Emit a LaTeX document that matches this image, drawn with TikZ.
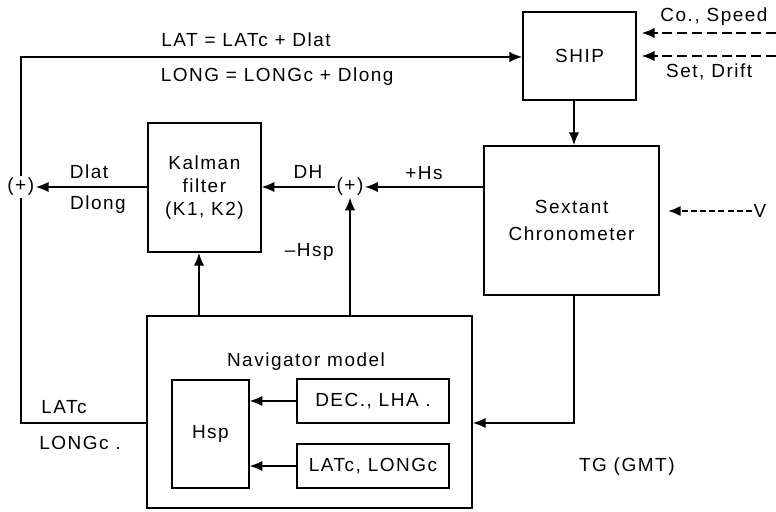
\documentclass[tikz,border=0pt]{standalone}
\usepackage{xcolor}
\usepackage{fontspec}
\setmainfont[LetterSpace=8]{Liberation Sans}
\usepackage{tikz}
\usetikzlibrary{arrows.meta,positioning}

\begin{document}
\begin{tikzpicture}[
    block/.style={rectangle, draw=black, line width=1.1pt, align=center, font=\fontsize{13.5}{16.5}\selectfont},
    lab/.style={font=\fontsize{13.5}{16}\selectfont, inner sep=1pt},
    sum/.style={font=\fontsize{13.5}{16}\selectfont, inner sep=1pt},
    wire/.style={line width=1.1pt},
    flow/.style={line width=1.1pt, -{Latex[length=3.2mm,width=2.6mm]}},
    ext/.style={line width=1.1pt, dashed, dash pattern=on 2.5mm off 1.2mm, -{Latex[length=3.2mm,width=2.6mm]}}
    ]
    \useasboundingbox (0,0) rectangle (19.4,-12.8);

    \node[block, minimum width=2.83cm, minimum height=2.2cm] (ship) at (14.49,-1.4) {SHIP};
    \node[block, minimum width=4.375cm, minimum height=3.725cm, font=\fontsize{13.5}{19.5}\selectfont] (sextant) at (14.29,-5.51) {Sextant\\Chronometer};
    \node[block, minimum width=2.825cm, minimum height=3.225cm] (kalman) at (5.11,-4.69) {Kalman\\filter\\(K1, K2)};
    \node[block, minimum width=8.125cm, minimum height=4.8cm] (nav) at (7.74,-10.3) {};
    \node[lab] (navlab) at (7.65,-9.05) {Navigator model};
    \node[block, minimum width=1.925cm, minimum height=2.7cm] (hsp) at (5.26,-10.85) {Hsp};
    \node[block, minimum width=3.8cm, minimum height=1.1cm] (dec) at (9.325,-10.025) {DEC., LHA .};
    \node[block, minimum width=3.8cm, minimum height=1.1cm] (latc) at (9.325,-11.65) {LATc, LONGc};

    \node[sum] (sumL) at (0.52,-4.675) {(+)};
    \node[sum] (sumM) at (8.75,-4.675) {(+)};
    \coordinate (cornerB) at (0.52,-10.575);
    \coordinate (cornerT) at (0.52,-1.425);

    % labels
    \node[lab] (lat) at (6.15,-1.0) {LAT = LATc + Dlat};
    \node[lab] (long) at (6.93,-1.925) {LONG = LONGc + Dlong};
    \node[lab] (dlat) at (2.225,-4.3) {Dlat};
    \node[lab] (dlong) at (2.45,-5.125) {Dlong};
    \node[lab] (dh) at (7.7,-4.3) {DH};
    \node[lab] (hs) at (10.6,-4.33) {+Hs};
    \node[lab] (mhsp) at (7.73,-6.3) {--Hsp};
    \node[lab] (latclab) at (1.6,-10.17) {LATc};
    \node[lab] (longclab) at (2.0,-11.08) {LONGc .};
    \node[lab] (tg) at (15.67,-11.67) {TG (GMT)};
    \node[lab] (co) at (17.85,-0.425) {Co., Speed};
    \node[lab] (set) at (17.73,-1.8) {Set, Drift};
    \node[lab] (v) at (19.0,-5.275) {V};
    \coordinate (coIn) at (19.4,-0.825);
    \coordinate (setIn) at (19.4,-1.4);

    % connectors
    \draw[ext, shorten >=0.12cm] (coIn) -- (coIn -| ship.east);
    \draw[ext, shorten >=0.12cm] (setIn) -- (setIn -| ship.east);
    \draw[ext, line width=1.6pt, dash pattern=on 1.5mm off 0.8mm, shorten >=0.2cm] (v.west) -- (v.west -| sextant.east);
    \draw[flow] (ship.south -| 14.35,0) -- (sextant.north -| 14.35,0);
    \draw[flow] (sextant.west |- sumM) -- (sumM.east);
    \draw[flow] (sumM.west) -- (kalman.east |- sumM);
    \draw[flow] (nav.north -| sumM) -- (sumM.south);
    \draw[flow] (nav.north -| 4.975,0) -- (kalman.south -| 4.975,0);
    \draw[flow] (kalman.west |- sumL) -- (sumL.east);
    \draw[flow] (sextant.south -| 14.35,0) |- (nav.east |- cornerB);
    \draw[flow] (dec.west) -- (hsp.east |- dec.west);
    \draw[flow] (latc.west) -- (hsp.east |- latc.west);
    \draw[wire] (nav.west |- cornerB) -- (cornerB) -- (sumL.south);
    \draw[flow] (sumL.north) -- (cornerT) -- (ship.west |- cornerT);
\end{tikzpicture}
\end{document}
